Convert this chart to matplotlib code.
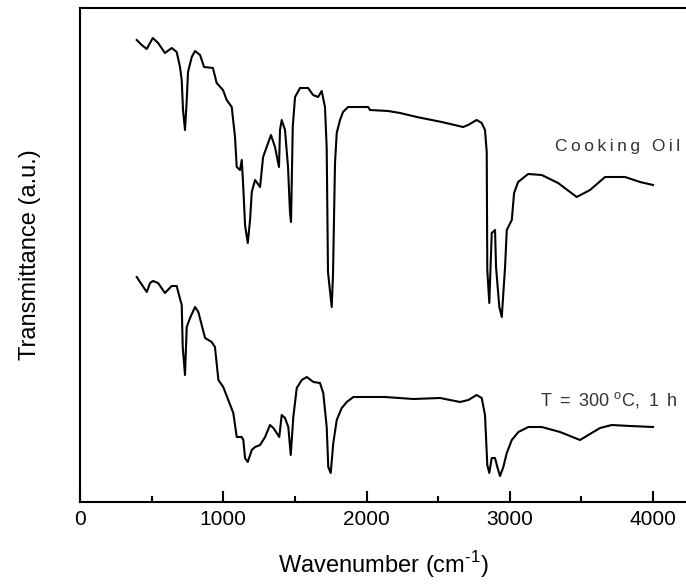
import matplotlib
matplotlib.use("Agg")
import matplotlib.pyplot as plt
from matplotlib.ticker import MultipleLocator

plt.rcParams['font.family'] = ['Liberation Sans', 'DejaVu Sans']
plt.rcParams['mathtext.fontset'] = 'custom'
plt.rcParams['mathtext.rm'] = 'Liberation Sans'

# Cooking oil spectrum (wavenumber cm^-1, transmittance a.u.)
oil_wn = [396, 431, 466, 508, 545, 593, 640, 675, 698, 710, 719, 733, 745, 754, 780, 803, 838, 866, 928, 954,
          998, 1024, 1059, 1082, 1094, 1117, 1129, 1138, 1152, 1171, 1187, 1199, 1222, 1257, 1278, 1303, 1333,
          1361, 1389, 1396, 1408, 1431, 1452, 1466, 1473, 1485, 1501, 1536, 1592, 1627, 1662, 1687, 1710, 1722,
          1731, 1757, 1766, 1780, 1792, 1815, 1836, 1871, 2011, 2024, 2150, 2234, 2351, 2525, 2674, 2709, 2769,
          2804, 2827, 2839, 2843, 2857, 2874, 2897, 2904, 2927, 2944, 2967, 2979, 3014, 3030, 3058, 3128, 3223,
          3337, 3467, 3560, 3665, 3805, 3909, 4000]
oil_t = [462, 457, 453, 464, 459, 449, 454, 450, 435, 422, 392, 372, 402, 430, 445, 451, 447, 435, 434, 419,
         412, 402, 395, 365, 335, 332, 342, 320, 277, 259, 282, 310, 322, 315, 345, 355, 367,
         355, 335, 372, 382, 372, 335, 289, 280, 375, 405, 414, 414, 407, 405, 411, 395, 354,
         230, 195, 227, 339, 369, 382, 390, 395, 395, 392, 391, 389, 385, 380, 375, 377, 382,
         379, 372, 350, 232, 199, 269, 272, 235, 195, 185, 235, 272, 282, 309, 320, 328, 327,
         319, 305, 312, 325, 325, 320, 317]

# Heated oil spectrum (T = 300 C, 1 h)
heat_wn = [396, 419, 466, 489, 510, 545, 593, 640, 675, 691, 710, 717, 733, 745, 768, 803, 826, 873, 919, 942,
           966, 1000, 1035, 1070, 1094, 1129, 1140, 1152, 1171, 1199, 1222, 1257, 1292, 1326, 1350, 1373, 1391,
           1408, 1431, 1454, 1471, 1489, 1513, 1548, 1583, 1629, 1675, 1698, 1722, 1733, 1750, 1768, 1792, 1827,
           1862, 1908, 2094, 2129, 2327, 2513, 2653, 2711, 2769, 2804, 2827, 2843, 2857, 2874, 2897, 2913, 2932,
           2955, 2979, 3014, 3060, 3130, 3223, 3351, 3490, 3630, 3712, 3840, 4000]
heat_t = [225, 220, 210, 219, 221, 219, 209, 216, 216, 207, 197, 155, 127, 175, 184, 195, 190, 164, 160, 155,
          122, 115, 102, 89, 65, 65, 62, 44, 40, 52, 55, 57, 65, 77, 74, 69, 65,
          87, 84, 75, 47, 85, 114, 122, 125, 120, 119, 109, 75, 35, 29, 59, 82, 94,
          100, 105, 105, 105, 103, 104, 100, 102, 107, 104, 87, 37, 29, 44, 44, 35, 26,
          35, 49, 62, 70, 75, 75, 70, 62, 74, 77, 76, 75]

fig = plt.figure(figsize=(6.86, 5.86), dpi=100)
ax = fig.add_axes([80 / 686, 84 / 586, 1 - 80 / 686, 494 / 586])

ax.plot(oil_wn, oil_t, color='black', lw=1.5)
ax.plot(heat_wn, heat_t, color='black', lw=1.5)

ts = '\u2009'
ax.text(4189, 355, ts.join('Cooking Oil'), ha='right', va='center', fontsize=12.5, color='#333333')
ax.text(4168, 102, 'T' + ts + ' = ' + ts + '300 ' + r'$^{\mathregular{o}}$C,' + ts + ' 1 ' + ts + 'h',
        ha='right', va='center', fontsize=13, color='#333333')

ax.set_xlim(0, 4230)
ax.set_ylim(0, 494)
ax.xaxis.set_major_locator(MultipleLocator(1000))
ax.xaxis.set_minor_locator(MultipleLocator(500))
ax.tick_params(axis='x', which='major', direction='in', length=8, width=1.5, labelsize=15, pad=6, top=False)
ax.tick_params(axis='x', which='minor', direction='in', length=4, width=1.5, top=False)
ax.set_yticks([])
ax.spines['right'].set_visible(False)
for s in ['left', 'bottom', 'top']:
    ax.spines[s].set_linewidth(1.5)

ax.set_xlabel('Wavenumber (cm$^{\\mathregular{\u2010 1}}$)', fontsize=17, labelpad=14)
ax.set_ylabel('Transmittance (a.u.)', fontsize=17, labelpad=28)

fig.savefig('out.png', dpi=100)
